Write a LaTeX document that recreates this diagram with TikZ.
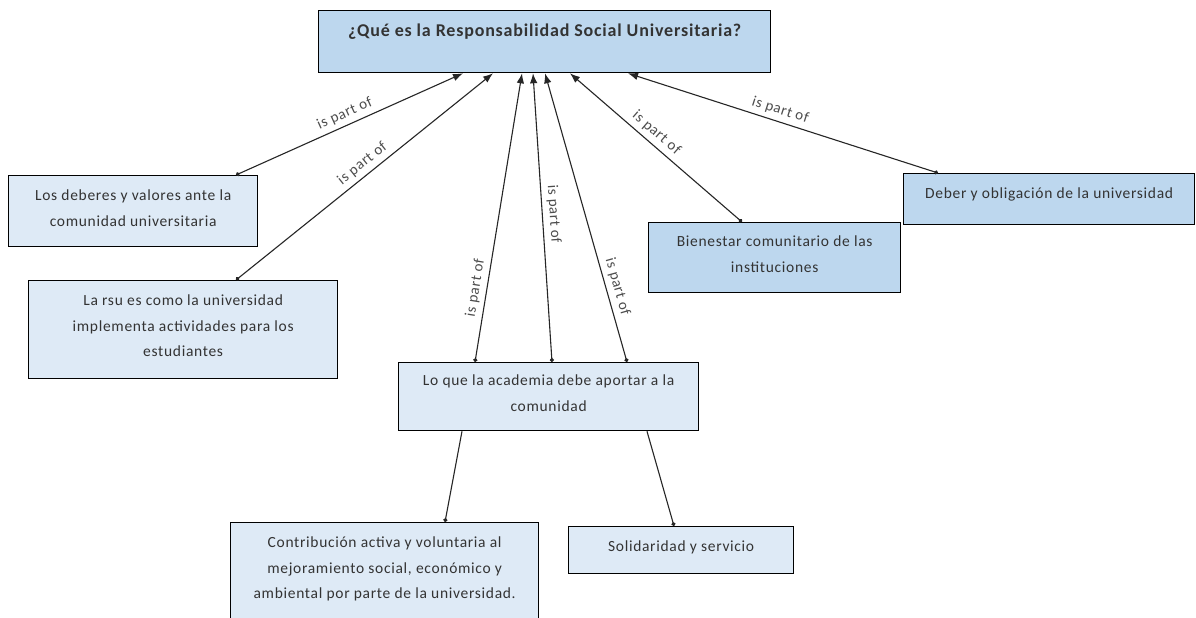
\documentclass[tikz,border=0pt]{standalone}
\usepackage{fontspec}
\setmainfont{Carlito}[LetterSpace=4.5]
\usetikzlibrary{arrows.meta}
\definecolor{boxdark}{HTML}{BDD7EE}
\definecolor{boxlight}{HTML}{DEEAF6}
\definecolor{txt}{HTML}{333333}
\definecolor{lbl}{HTML}{4D4D4D}
\newcommand{\bxt}[4]{\parbox[c][#2pt][t]{#1pt}{\centering\fontsize{15.5}{25.5}\selectfont\rule{0pt}{#3pt}#4}}
\begin{document}
\begin{tikzpicture}[x=1pt,y=-1pt,
  box/.style={draw=black, line width=1.3pt, inner sep=0pt, anchor=north west, text=txt},
  dark/.style={box, fill=boxdark},
  light/.style={box, fill=boxlight},
  rel/.style={draw=black!85, line width=1.1pt, {Circle[length=4pt]}-{Latex[length=10pt,width=7.5pt]}},
  sub/.style={draw=black!85, line width=1.1pt, -{Circle[length=4pt]}},
  lab/.style={sloped, above=2.5pt, font=\fontsize{15}{16}\selectfont, text=lbl, inner sep=2pt}]
\clip (0,0) rectangle (1196,618);
\fill[white] (0,0) rectangle (1196,618);

\node[dark] (q) at (318,10) {\parbox[c][62pt][t]{452pt}{\centering\fontsize{18}{20}\selectfont\bfseries\rule{0pt}{26pt}¿Qué es la Responsabilidad Social Universitaria?}};
\node[light] (deb) at (8,175) {\bxt{249}{71}{25}{Los deberes y valores ante la\\comunidad universitaria}};
\node[light] (rsu) at (28,280) {\bxt{309}{98}{25}{La rsu es como la universidad\\implementa actividades para los\\estudiantes}};
\node[light] (aca) at (398,362) {\bxt{300}{68}{23}{Lo que la academia debe aportar a la\\comunidad}};
\node[dark] (bie) at (648,222) {\bxt{252}{70}{24}{Bienestar comunitario de las\\instituciones}};
\node[dark] (dob) at (903,173) {\bxt{291}{51}{25}{Deber y obligación de la universidad}};
\node[light] (con) at (230,522) {\bxt{308}{110}{25}{Contribución activa y voluntaria al\\mejoramiento social, económico y\\ambiental por parte de la universidad.}};
\node[light] (sol) at (568,526) {\bxt{225}{47}{25}{Solidaridad y servicio}};

\draw[rel] ([xshift=228pt]deb.north west) -- node[lab,pos=0.5]{is part of} ([xshift=145pt]q.south west);
\draw[rel] ([xshift=208pt]rsu.north west) -- node[lab,pos=0.52]{is part of} ([xshift=175pt]q.south west);
\draw[rel] ([xshift=77pt]aca.north west) -- node[lab,pos=0.25]{is part of} ([xshift=204pt]q.south west);
\draw[rel] ([xshift=154pt]aca.north west) -- node[lab,pos=0.51]{is part of} ([xshift=215pt]q.south west);
\draw[rel] ([xshift=229pt]aca.north west) -- node[lab,pos=0.25]{is part of} ([xshift=227pt]q.south west);
\draw[rel] ([xshift=94pt]bie.north west) -- node[lab,pos=0.54]{is part of} ([xshift=252pt]q.south west);
\draw[rel] ([xshift=35pt]dob.north west) -- node[lab,pos=0.52]{is part of} ([xshift=310pt]q.south west);

\draw[sub] ([xshift=64pt]aca.south west) -- ([xshift=215pt]con.north west);
\draw[sub] ([xshift=249pt]aca.south west) -- ([xshift=106pt]sol.north west);
\end{tikzpicture}
\end{document}
